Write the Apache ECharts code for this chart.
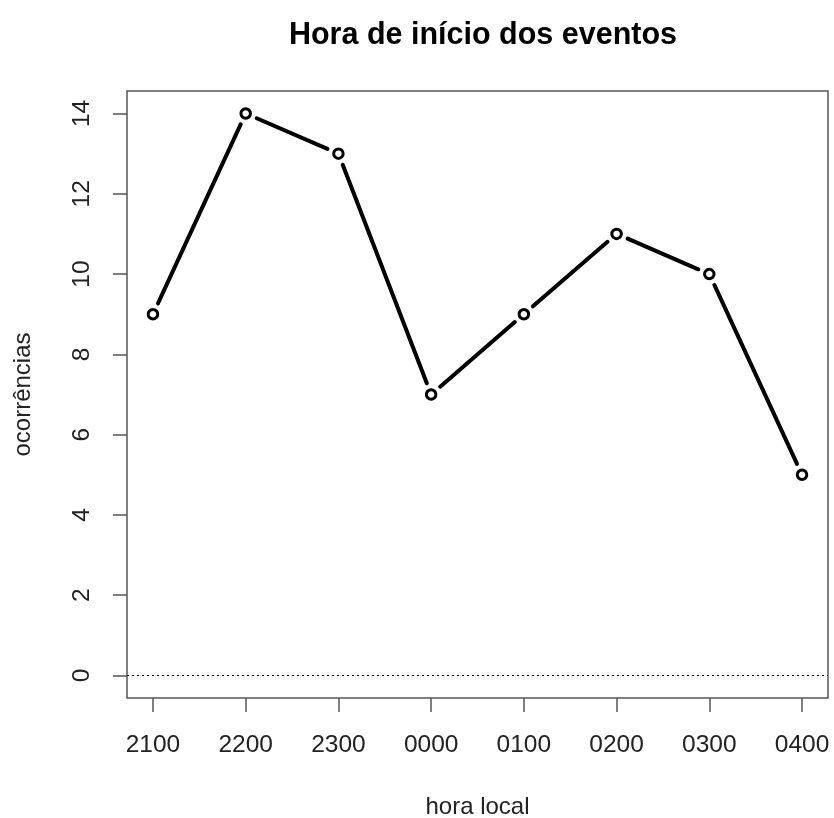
<!DOCTYPE html>
<html><head><meta charset="utf-8">
<script src="https://cdn.jsdelivr.net/npm/echarts@6/dist/echarts.min.js"></script>
<style>html,body{margin:0;padding:0;background:#fff}#c{width:834px;height:818px}</style>
</head><body><div id="c"></div>
<script>
const categories = ['2100','2200','2300','0000','0100','0200','0300','0400'];
const values = [9, 14, 13, 7, 9, 11, 10, 5];
const yTicks = [0, 2, 4, 6, 8, 10, 12, 14];
const title = 'Hora de início dos eventos';
const xTitle = 'hora local';
const yTitle = 'ocorrências';

const xPos = categories.map((c, i) => i + 1);
const data = values.map((v, i) => [xPos[i], v]);
const segs = values.slice(0, -1).map((v, i) => [xPos[i], v, xPos[i + 1], values[i + 1]]);
const font = 'Liberation Sans, Arial, sans-serif';
const GAP = 12;
const chart = echarts.init(document.getElementById('c'));
chart.setOption({
  animation: false,
  title: { text: title, left: 478, top: 15, textAlign: 'center',
    textStyle: { fontFamily: font, fontSize: 30.5, fontWeight: 'bold', color: '#000' } },
  grid: { left: 127, right: 6, top: 91, bottom: 120, containLabel: false, outerBoundsMode: 'none',
    show: true, borderColor: '#555', borderWidth: 1.5, backgroundColor: 'transparent' },
  xAxis: {
    type: 'value', min: 0.72, max: 8.28,
    name: xTitle, nameLocation: 'middle', nameGap: 97,
    nameTextStyle: { fontFamily: font, fontSize: 24, color: '#222' },
    axisLine: { show: false, onZero: false },
    splitLine: { show: false },
    axisTick: { show: true, length: 14, inside: false, customValues: xPos, lineStyle: { color: '#555', width: 1.5 } },
    axisLabel: { show: true, margin: 35, fontFamily: font, fontSize: 24.5, color: '#222',
      customValues: xPos, formatter: v => categories[Math.round(v) - 1] }
  },
  yAxis: {
    type: 'value', min: -0.56, max: 14.56,
    name: yTitle, nameLocation: 'middle', nameGap: 92, nameRotate: 90,
    nameTextStyle: { fontFamily: font, fontSize: 24, color: '#222' },
    axisLine: { show: false, onZero: false },
    splitLine: { show: false },
    axisTick: { show: true, length: 14, customValues: yTicks, lineStyle: { color: '#555', width: 1.5 } },
    axisLabel: { show: true, rotate: 90, margin: 45, fontFamily: font, fontSize: 24.5, color: '#222',
      customValues: yTicks, align: 'center', verticalAlign: 'middle' }
  },
  series: [{
    type: 'custom',
    data: segs,
    encode: { x: [0, 2], y: [1, 3] },
    renderItem: function (params, api) {
      const p1 = api.coord([api.value(0), api.value(1)]);
      const p2 = api.coord([api.value(2), api.value(3)]);
      const dx = p2[0] - p1[0], dy = p2[1] - p1[1];
      const len = Math.sqrt(dx * dx + dy * dy);
      const ux = dx / len, uy = dy / len;
      return {
        type: 'line',
        shape: { x1: p1[0] + ux * GAP, y1: p1[1] + uy * GAP, x2: p2[0] - ux * GAP, y2: p2[1] - uy * GAP },
        style: { stroke: '#000', lineWidth: 4, lineCap: 'round' }
      };
    },
    markLine: { silent: true, symbol: 'none', label: { show: false },
      lineStyle: { color: '#000', type: [2, 3], width: 1.2 },
      data: [{ yAxis: 0 }] }
  }, {
    type: 'scatter', data: data,
    symbol: 'circle', symbolSize: 9.5,
    itemStyle: { color: '#fff', borderColor: '#000', borderWidth: 3, opacity: 1 }
  }]
});
</script></body></html>
